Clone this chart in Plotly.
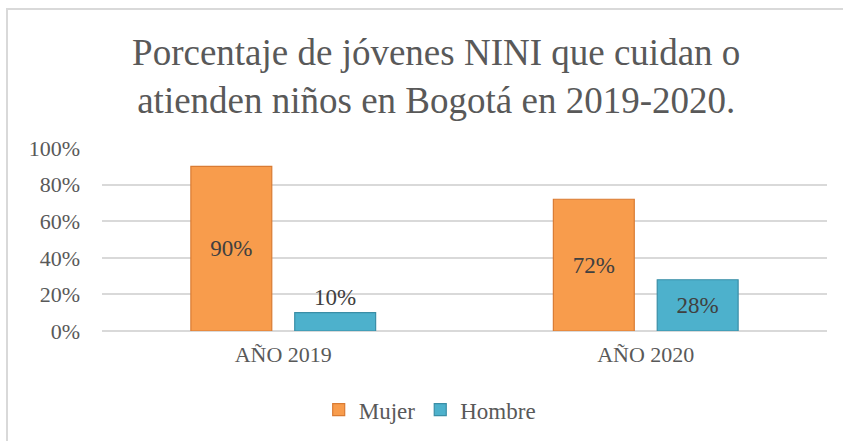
import plotly.graph_objects as go

categorias = ["AÑO 2019", "AÑO 2020"]
mujer = [0.90, 0.72]
hombre = [0.10, 0.28]
ticks_val = [0, 0.2, 0.4, 0.6, 0.8, 1.0]
ticks_txt = ["0%", "20%", "40%", "60%", "80%", "100%"]

fuente = "Liberation Serif, Times New Roman, serif"
gris = "#595959"

fig = go.Figure()

fig.add_trace(go.Bar(
  x=categorias, y=mujer, name="Mujer",
  text=[f"{v:.0%}" for v in mujer], textposition="auto", insidetextanchor="middle",
  marker=dict(color="#F89C4C", line=dict(color="#D97B33", width=1.2)),
  textfont=dict(family=fuente, size=23, color="#404040"),
))
fig.add_trace(go.Bar(
  x=categorias, y=hombre, name="Hombre",
  text=[f"{v:.0%}" for v in hombre], textposition="auto", insidetextanchor="middle",
  marker=dict(color="#4DB1CC", line=dict(color="#3A8EA6", width=1.2)),
  textfont=dict(family=fuente, size=23, color="#404040"),
))

fig.update_layout(
  width=843, height=441,
  paper_bgcolor="white", plot_bgcolor="white",
  margin=dict(l=102, r=16, t=148, b=110, autoexpand=False),
  bargap=0.427, bargroupgap=0.221,
  font=dict(family=fuente, size=22, color=gris),
  title=dict(
    text="Porcentaje de jóvenes NINI que cuidan o<br>atienden niños en Bogotá en 2019-2020.",
    x=0.461, xanchor="center", xref="paper",
    y=1 - 65 / 441, yanchor="middle", yref="container",
    font=dict(family=fuente, size=37, color=gris),
  ),
  legend=dict(
    orientation="h", x=0.452, xanchor="center", y=-0.43, yanchor="middle",
    font=dict(size=23, color=gris), itemwidth=30,
  ),
)

fig.update_yaxes(
  range=[0, 1.0], tickvals=ticks_val, ticktext=ticks_txt,
  showgrid=True, gridcolor="#D9D9D9", gridwidth=1.5,
  zeroline=True, zerolinecolor="#D9D9D9", zerolinewidth=1.5,
  showline=False, ticks="", ticklabelstandoff=21, automargin=False,
)
fig.update_xaxes(showline=False, ticks="", automargin=False, ticklabelstandoff=8,
  tickfont=dict(size=22, color=gris))

# borde del grafico
fig.add_shape(type="rect", xref="paper", yref="paper",
  x0=(7 - 102) / 725, x1=(900 - 102) / 725,
  y0=(331 - 460) / 183, y1=(331 - 9) / 183,
  line=dict(color="#D9D9D9", width=2), layer="below")

fig.write_html("out.html", config={"displayModeBar": False},
  post_script="document.body.style.margin='0';")
